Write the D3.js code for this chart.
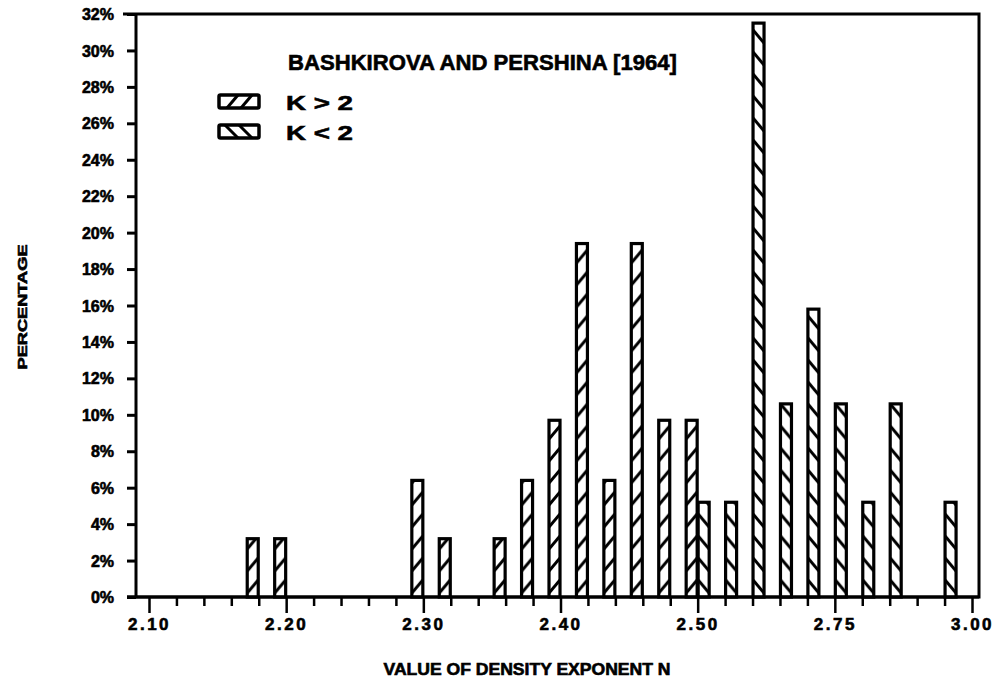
<!DOCTYPE html>
<html><head><meta charset="utf-8">
<script src="https://cdn.jsdelivr.net/npm/d3@7"></script>
<style>
html,body{margin:0;padding:0;background:#fff;}
text{font-family:"Liberation Sans",Arial,sans-serif;font-weight:bold;fill:#000;stroke:#000;stroke-width:0.6px;}
</style></head>
<body><svg id="c" width="996" height="680"></svg>
<script>
// ---- data ----
const tickLabels = ["2.10","2.20","2.30","2.40","2.50","2.75","3.00"]; // every 5th minor tick
const yTicks = [0,2,4,6,8,10,12,14,16,18,20,22,24,26,28,30,32];
// bin index (minor tick) and percentage
const kGt2Bins   = [4, 5, 10, 11, 13, 14, 15, 16, 17, 18, 19, 20];
const kGt2Values = [3.2, 3.2, 6.4, 3.2, 3.2, 6.4, 9.7, 19.4, 6.4, 19.4, 9.7, 9.7];
const kLt2Bins   = [20, 21, 22, 23, 24, 25, 26, 27, 29];
const kLt2Values = [5.2, 5.2, 31.5, 10.6, 15.8, 10.6, 5.2, 10.6, 5.2];
const titleText = "BASHKIROVA AND PERSHINA [1964]";
const legendLabels = ["K > 2", "K < 2"];

// ---- layout ----
const svg = d3.select("#c");
const defs = svg.append("defs");
const L = 136, R = 979, T = 14, B = 597;
const x = d3.scaleLinear().domain([0, 30]).range([149, 972]);
const y = d3.scaleLinear().domain([0, 32]).range([B, T]);
const bw = 11;

// frame
svg.append("path")
  .attr("d", `M${L-13},${T} H${R} V${B} H${L-9} M${L},${T} V${B}`)
  .attr("fill","none").attr("stroke","#000").attr("stroke-width",3);

// y axis
const yAxis = d3.axisLeft(y).tickValues(yTicks).tickSize(9).tickPadding(9)
  .tickFormat(d => d + "%");
const gy = svg.append("g").attr("transform", `translate(${L},0)`).call(yAxis);
gy.select(".domain").remove();
gy.selectAll(".tick line").attr("stroke","#000").attr("stroke-width",3);
gy.selectAll(".tick text").attr("font-size",16).attr("font-family","Liberation Sans, Arial")
  .attr("font-weight","bold").attr("dy","0.35em").attr("x",-22).attr("stroke","#000").attr("stroke-width",0.8);

// x axis minor ticks
const minor = d3.range(0, 31);
const xAxis = d3.axisBottom(x).tickValues(minor).tickSize(9)
  .tickFormat(d => d % 5 === 0 ? tickLabels[d/5] : "");
const gx = svg.append("g").attr("transform", `translate(0,${B})`).call(xAxis);
gx.select(".domain").remove();
gx.selectAll(".tick line").attr("stroke","#000").attr("stroke-width",2.5)
  .attr("y2", d => d % 5 === 0 ? 16 : 9);
gx.selectAll(".tick text").attr("font-size",17).attr("font-family","Liberation Sans, Arial")
  .attr("font-weight","bold").attr("letter-spacing","2.5").attr("y",27).attr("dy","0.35em")
  .attr("stroke","#000").attr("stroke-width",0.8);

// bars with hatch
function makePattern(id, bx, dir) {
  const p = defs.append("pattern").attr("id", id).attr("patternUnits","userSpaceOnUse")
    .attr("x", bx).attr("y", B).attr("width", bw).attr("height", 22);
  p.append("rect").attr("width", bw).attr("height", 22).attr("fill","#fff");
  if (dir > 0) p.append("line").attr("x1",0).attr("y1",18).attr("x2",bw).attr("y2",5);
  else p.append("line").attr("x1",0).attr("y1",5).attr("x2",bw).attr("y2",18);
  p.select("line").attr("stroke","#000").attr("stroke-width",3);
}
const gt = kGt2Bins.map((b,i)=>({b, v:kGt2Values[i], s:1}));
const lt = kLt2Bins.map((b,i)=>({b, v:kLt2Values[i], s:-1}));
const all = gt.concat(lt);
all.forEach((d,i) => {
  const bx = d.s > 0 ? x(d.b) - bw - 0.5 : x(d.b) + 0.5;
  makePattern("h"+i, bx, d.s);
  d.bx = bx; d.id = "h"+i;
});
svg.append("g").selectAll("rect").data(all).join("rect")
  .attr("x", d => d.bx).attr("y", d => y(d.v))
  .attr("width", bw).attr("height", d => y(0) - y(d.v))
  .attr("fill", d => `url(#${d.id})`)
  .attr("stroke","#000").attr("stroke-width",3.2);

// redraw baseline on top
svg.append("line").attr("x1",L-9).attr("x2",R).attr("y1",B).attr("y2",B)
  .attr("stroke","#000").attr("stroke-width",3);

// title and legend
svg.append("text").attr("x",288).attr("y",70).attr("font-size",22)
  .attr("textLength",389).attr("lengthAdjust","spacingAndGlyphs").text(titleText);
const lg = svg.append("g");
[0,1].forEach(i => {
  const by = 95 + i*30, bx = 219;
  lg.append("rect").attr("x",bx).attr("y",by).attr("width",40).attr("height",13)
    .attr("fill","#fff").attr("stroke","#000").attr("stroke-width",3.5).attr("rx",1.5);
  [8, 22].forEach(o => {
    if (i === 0) lg.append("line").attr("x1",bx+o).attr("y1",by+13).attr("x2",bx+o+11).attr("y2",by)
      .attr("stroke","#000").attr("stroke-width",3);
    else lg.append("line").attr("x1",bx+o-2).attr("y1",by).attr("x2",bx+o+11).attr("y2",by+13)
      .attr("stroke","#000").attr("stroke-width",3);
  });
  lg.append("text").attr("x",286).attr("y",110 + i*30).attr("font-size",21)
    .attr("textLength",67).attr("lengthAdjust","spacingAndGlyphs").text(legendLabels[i]);
});

// axis titles
svg.append("text").attr("transform","translate(27,307) rotate(-90)")
  .attr("text-anchor","middle").attr("font-size",13)
  .attr("textLength",125).attr("lengthAdjust","spacingAndGlyphs").text("PERCENTAGE");
svg.append("text").attr("x",527).attr("y",675).attr("text-anchor","middle").attr("font-size",16)
  .attr("textLength",287).attr("lengthAdjust","spacingAndGlyphs").text("VALUE OF DENSITY EXPONENT N");
</script></body></html>
